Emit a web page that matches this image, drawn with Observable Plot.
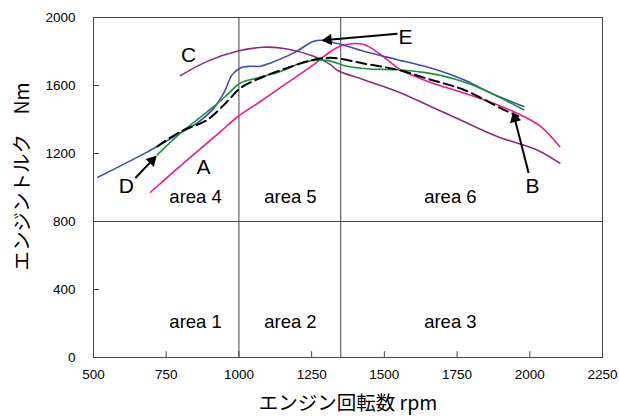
<!DOCTYPE html>
<html><head><meta charset="utf-8">
<script src="https://cdn.jsdelivr.net/npm/d3@7"></script>
<script src="https://cdn.jsdelivr.net/npm/@observablehq/plot@0.6"></script>
<style>body{margin:0;background:#fff}</style>
</head><body><div id="chart"></div>
<script>
const xTicks = [500,750,1000,1250,1500,1750,2000,2250];
const yTicks = [0,400,800,1200,1600,2000];
const areaBounds = {x:[1000,1350], y:[800]};

const seriesA = [[696,972],[776,1093],[856,1211],[937,1329],[1000,1422],[1074,1506],[1166,1615],[1257,1723],[1315,1800],[1360,1838],[1429,1841],[1487,1782],[1555,1693],[1612,1650],[1659,1618],[1773,1556],[1888,1487],[1979,1418],[2037,1359],[2103,1241]];
const seriesB = [[719,1241],[799,1329],[891,1398],[960,1506],[1005,1585],[1074,1644],[1166,1703],[1257,1752],[1326,1762],[1429,1729],[1544,1693],[1659,1634],[1773,1575],[1911,1457],[1960,1420]];
const seriesC = [[799,1658],[891,1742],[994,1801],[1085,1825],[1166,1815],[1257,1772],[1315,1723],[1338,1690],[1429,1634],[1544,1565],[1659,1477],[1773,1388],[1888,1300],[2025,1221],[2103,1143]];
const seriesD = [[719,1192],[799,1320],[856,1398],[914,1477],[960,1546],[1005,1615],[1063,1644],[1143,1683],[1200,1723],[1257,1748],[1303,1748],[1372,1713],[1452,1697],[1544,1693],[1636,1677],[1750,1634],[1842,1575],[1979,1457]];
const seriesE = [[515,1060],[673,1198],[719,1241],[799,1321],[856,1379],[914,1467],[948,1556],[977,1664],[1005,1703],[1040,1713],[1074,1713],[1109,1733],[1189,1792],[1257,1860],[1286,1866],[1326,1851],[1349,1843],[1429,1801],[1544,1752],[1659,1703],[1773,1634],[1865,1556],[1979,1477]];

const areaLabels = [
  {t:"area 4",x:851,y:944},{t:"area 5",x:1177,y:944},{t:"area 6",x:1727,y:944},
  {t:"area 1",x:851,y:206},{t:"area 2",x:1177,y:206},{t:"area 3",x:1727,y:206}
];
const curveLabels = [
  {t:"A",x:878,y:1121},{t:"B",x:2009,y:1009},{t:"C",x:827,y:1776},{t:"D",x:613,y:1009},{t:"E",x:1573,y:1882}
];
const arrows = [
  {x1:644,y1:1056,x2:713,y2:1180},
  {x1:1996,y1:1086,x2:1944,y2:1434},
  {x1:1545,y1:1905,x2:1290,y2:1866}
];

const W = 619, H = 417, ML = 93, MR = 17, MT = 17, MB = 60;
const xDom = [500,2250], yDom = [0,2000];
const kx = (W-ML-MR)/(xDom[1]-xDom[0]);
const ky = (H-MT-MB)/(yDom[1]-yDom[0]);
// arrow head triangles (direction derived from the arrow data)
const heads = arrows.map(a => {
  const dx = (a.x2-a.x1)*kx, dy = -(a.y2-a.y1)*ky;
  const len = Math.hypot(dx, dy), ux = dx/len, uy = dy/len;
  const back = 5;
  return {
    x: a.x2 - ux*back/kx,
    y: a.y2 + uy*back/ky,
    rot: Math.atan2(dx, -dy)*180/Math.PI
  };
});

const toObj = a => a.map(([x,y])=>({x,y}));
const font = "'Liberation Sans', Arial, sans-serif";
const jp = "'Noto Sans CJK JP', sans-serif";

const plot = Plot.plot({
  width: W, height: H,
  marginLeft: ML, marginRight: MR, marginTop: MT, marginBottom: MB,
  style: {fontFamily: font, background: "#fff"},
  x: {domain:xDom},
  y: {domain:yDom},
  marks: [
    Plot.ruleX(areaBounds.x, {stroke:"#444", strokeWidth:1}),
    Plot.ruleY(areaBounds.y, {stroke:"#444", strokeWidth:1}),
    Plot.ruleX(xTicks, {x:d=>d, y1:0, y2:34, stroke:"#444"}),
    Plot.ruleY(yTicks, {y:d=>d, x1:500, x2:521, stroke:"#444"}),
    Plot.frame({stroke:"#444"}),
    Plot.axisX(xTicks, {tickSize:0, tickPadding:12, fontSize:13.5, label:null, fill:"#000", tickFormat:d=>String(d)}),
    Plot.axisY(yTicks, {tickSize:0, tickPadding:18, fontSize:13.5, label:null, fill:"#000", tickFormat:d=>String(d)}),
    Plot.line(toObj(seriesC), {x:"x", y:"y", stroke:"#8b2b7b", strokeWidth:1.6, curve:"catmull-rom"}),
    Plot.line(toObj(seriesA), {x:"x", y:"y", stroke:"#ec1a8c", strokeWidth:1.6, curve:"catmull-rom"}),
    Plot.line(toObj(seriesE), {x:"x", y:"y", stroke:"#3b52a6", strokeWidth:1.6, curve:"catmull-rom"}),
    Plot.line(toObj(seriesD), {x:"x", y:"y", stroke:"#1b9040", strokeWidth:1.6, curve:"catmull-rom"}),
    Plot.line(toObj(seriesB), {x:"x", y:"y", stroke:"#000", strokeWidth:2, strokeDasharray:"10,5", curve:"catmull-rom"}),
    Plot.link(arrows, {x1:"x1", y1:"y1", x2:"x2", y2:"y2", stroke:"#000", strokeWidth:2}),
    Plot.dot(heads, {x:"x", y:"y", rotate:"rot", symbol:"triangle2", r:5.5, fill:"#000", stroke:"none"}),
    Plot.text(areaLabels, {x:"x", y:"y", text:"t", fontSize:18.5, fill:"#000"}),
    Plot.text(curveLabels, {x:"x", y:"y", text:"t", fontSize:21, fill:"#000"}),
    Plot.text(["エンジン回転数 rpm"], {frameAnchor:"bottom", dy:46, lineAnchor:"middle", text:d=>d, fontSize:19.5, fontFamily:jp, fill:"#000"}),
    Plot.text(["エンジントルク　Nm"], {frameAnchor:"left", textAnchor:"middle", dx:-71, dy:-11, rotate:-90, text:d=>d, fontSize:19.5, fontFamily:jp, fill:"#000"})
  ]
});
document.getElementById("chart").appendChild(plot);
</script></body></html>
